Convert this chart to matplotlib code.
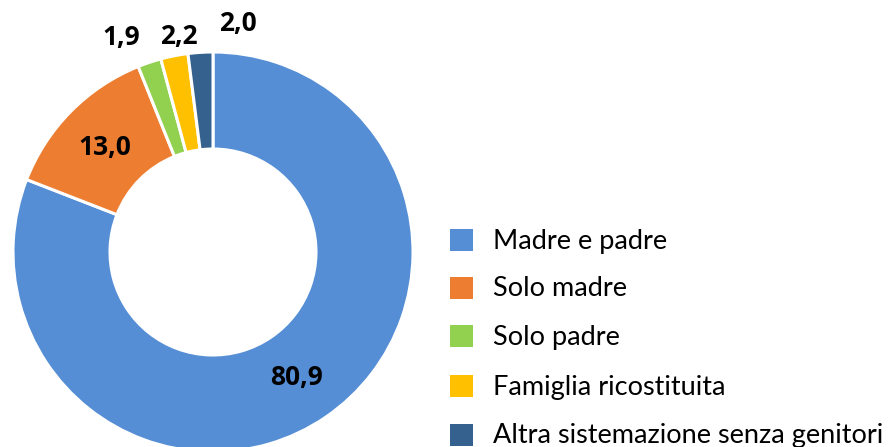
import numpy as np
import matplotlib
matplotlib.use("Agg")
import matplotlib.pyplot as plt
from matplotlib.patches import Rectangle

categories = ["Madre e padre", "Solo madre", "Solo padre",
              "Famiglia ricostituita", "Altra sistemazione senza genitori"]
values = [80.9, 13.0, 1.9, 2.2, 2.0]
labels = ["80,9", "13,0", "1,9", "2,2", "2,0"]
colors = ["#558ED5", "#ED7D31", "#92D050", "#FFC000", "#35618F"]

plt.rcParams['font.family'] = ['Lato', 'DejaVu Sans']

W, H = 889, 447
fig = plt.figure(figsize=(W / 100, H / 100), dpi=100)
# donut centre (213, 252 from top), radius 200 px
cx, cy, R = 213, 252, 200
ax = fig.add_axes([(cx - R) / W, (H - cy - R) / H, 2 * R / W, 2 * R / H])

wedges, _ = ax.pie(values, colors=colors, startangle=90, counterclock=False,
                   radius=1.0,
                   wedgeprops=dict(width=0.485, edgecolor='white', linewidth=2.2))
ax.set_xlim(-1, 1)
ax.set_ylim(-1, 1)
ax.set_aspect('equal')
ax.axis('off')

# label placement: radial factor and angular nudge (deg)
rad = [0.753, 0.75, 1.169, 1.093, 1.147]
nudge = [-0.5, 0.7, 4.7, -2.3, -9.9]
for w, lab, r, dn in zip(wedges, labels, rad, nudge):
    mid = np.deg2rad((w.theta1 + w.theta2) / 2 + dn)
    ax.text(r * np.cos(mid), r * np.sin(mid), lab, ha='center', va='center',
            fontsize=19, fontweight='bold', color='black', clip_on=False,
            family=['Open Sans', 'DejaVu Sans'])

# legend (manual layout in figure pixels)
row_y = [240, 288, 336, 386, 435]
for cat, col, yy in zip(categories, colors, row_y):
    fig.patches.append(Rectangle(((450) / W, 1 - (yy + 11) / H), 23 / W, 22 / H,
                                 transform=fig.transFigure, facecolor=col,
                                 edgecolor='none'))
    fig.text(493 / W, 1 - (yy + 1) / H, cat, ha='left', va='center',
             fontsize=19.5, color='black')

fig.savefig("out.png", dpi=100)
